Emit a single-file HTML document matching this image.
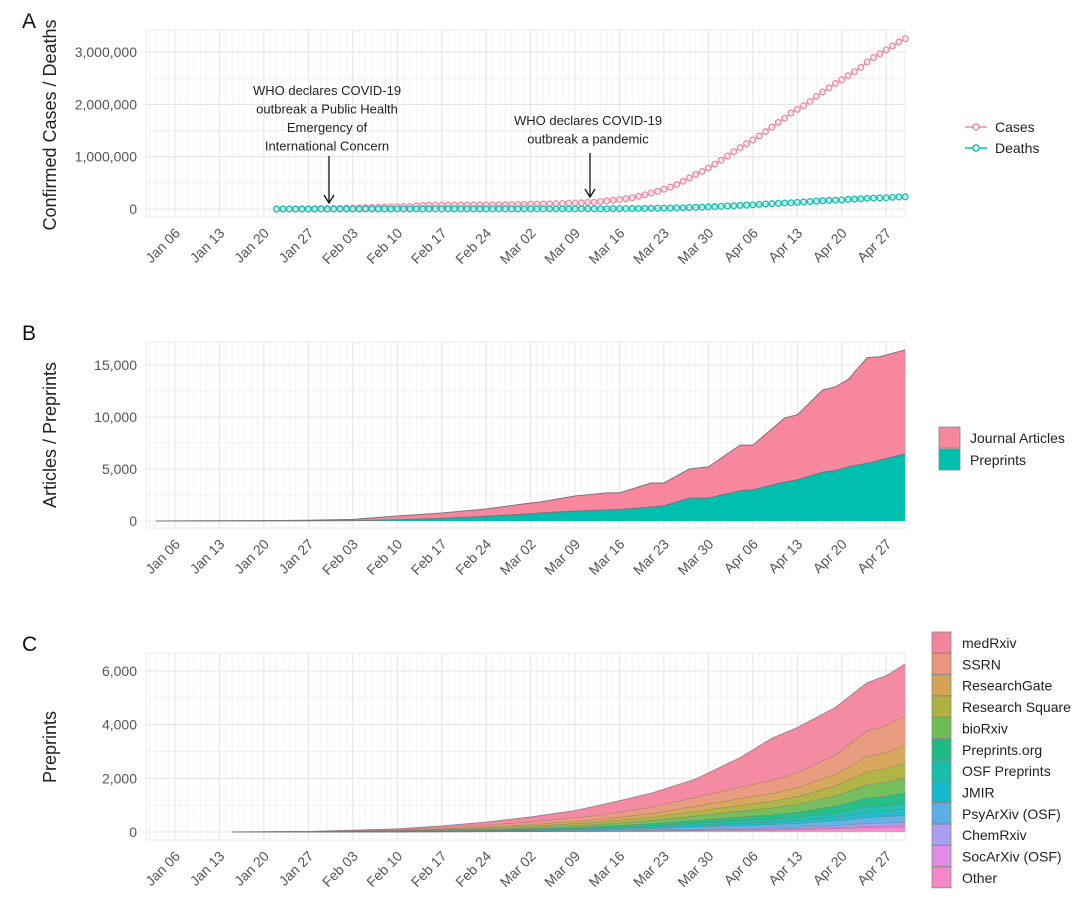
<!DOCTYPE html>
<html><head><meta charset="utf-8"><style>
html,body{margin:0;padding:0;background:#fff;}
svg{display:block;font-family:"Liberation Sans",Arial,sans-serif;}
</style></head><body>
<svg id="chart" width="1080" height="907" viewBox="0 0 1080 907" xmlns="http://www.w3.org/2000/svg"></svg>
<script>
// ---------- DATA ----------
// day offsets are days since Jan 06 (Jan 06 = 0)
const weekTickDays = [0,7,14,21,28,35,42,49,56,63,70,77,84,91,98,105,112];
const weekTickLabels = ["Jan 06","Jan 13","Jan 20","Jan 27","Feb 03","Feb 10","Feb 17","Feb 24","Mar 02","Mar 09","Mar 16","Mar 23","Mar 30","Apr 06","Apr 13","Apr 20","Apr 27"];

// Panel A: daily from Jan 22 (day 16), thousands
const casesStartDay = 16;
const casesK = [0.56,0.65,0.94,1.43,2.12,2.93,5.58,6.17,8.24,9.93,
12.0,16.8,19.9,23.7,27.6,30.8,34.4,37.1,40.2,42.8,44.8,45.2,60.4,66.9,69.0,71.2,73.3,75.2,75.6,76.2,76.8,78.6,78.9,79.6,80.4,81.4,82.7,84.1,86.0,
88.4,90.3,92.8,95.1,97.9,101.8,105.8,109.8,113.6,118.6,125.9,128.3,145.2,156.1,167.4,181.5,197.1,214.9,242.7,272.2,304.5,336.9,378.2,418.0,467.7,529.6,593.3,660.7,720.1,782.4,857.5,
932.6,1013,1095,1176,1249,1321,1396,1480,1565,1657,1735,1835,1905,1976,2056,2152,2240,2317,2401,2472,2549,2624,2708,2811,2897,2971,3042,3117,3193,3256];
const deathsK = [0.02,0.02,0.03,0.04,0.06,0.08,0.13,0.13,0.17,0.21,
0.26,0.36,0.43,0.49,0.56,0.63,0.72,0.81,0.91,1.01,1.11,1.12,1.37,1.52,1.67,1.77,1.87,2.01,2.12,2.25,2.25,2.46,2.47,2.63,2.71,2.77,2.81,2.87,2.94,
2.99,3.09,3.16,3.25,3.35,3.46,3.56,3.80,3.99,4.26,4.61,4.91,5.41,5.83,6.47,7.16,7.98,9.00,10.0,11.4,13.1,14.8,16.8,19.0,22.2,24.9,28.6,32.3,35.6,39.6,44.5,
50.0,56.8,62.8,68.8,73.8,80.0,87.6,95.0,102,108,115,120,126,134,142,150,158,165,169,175,183,190,196,203,209,212,216,224,230,233];
const aTicks = [0,1000000,2000000,3000000];
const aTickLabels = ["0","1,000,000","2,000,000","3,000,000"];

// Panel B
const bDays = [-3,7,14,21,28,35,42,49,56,57.5,63,68,70,75,77,81,84,89,91,96,98,102,104,106,109,111,115];
const bTotal = [0,20,40,80,150,480,770,1150,1730,1830,2400,2700,2700,3650,3650,5000,5200,7300,7300,9900,10200,12600,12900,13600,15700,15800,16450];
const bPreprints = [0,5,10,20,40,120,250,450,700,770,950,1060,1100,1350,1450,2200,2200,2900,3000,3750,3950,4700,4850,5200,5550,5850,6450];
const bTicks = [0,5000,10000,15000];
const bTickLabels = ["0","5,000","10,000","15,000"];

// Panel C (stacked, bottom -> top order: Other ... medRxiv)
const cDays = [9,21,35,42,49,56,63,67,75,82,89,94,98,104,109,112,115];
const cOther   = [0,0,4,7,11,17,24,28,41,57,74,85,98,127,166,176,190];
const cSocArXiv= [0,0,1,3,4,6,9,10,15,21,27,31,36,46,60,64,70];
const cChemRxiv= [0,0,2,4,7,10,14,16,23,33,42,48,56,72,95,100,110];
const cPsyArXiv= [0,1,5,10,16,23,32,38,56,78,101,116,133,173,227,239,260];
const cJMIR    = [0,1,4,8,13,19,27,32,47,65,84,97,111,145,189,200,230];
const cOSF     = [0,1,5,9,14,21,30,35,51,72,92,106,122,159,208,219,230];
const cPreprintsOrg=[0,1,8,14,22,32,46,54,79,110,143,164,189,246,321,339,370];
const cBioRxiv = [0,3,14,22,34,50,70,82,121,169,218,251,289,376,491,519,560];
const cResearchSquare=[0,2,12,21,34,49,70,82,121,169,218,251,289,376,491,519,550];
const cResearchGate=[0,2,13,24,39,57,81,95,140,195,252,290,333,434,567,598,670];
const cSSRN    = [0,4,22,40,65,95,135,158,232,325,420,482,555,722,945,998,1080];
const cMedRxiv = [0,5,30,60,110,180,260,370,520,680,1100,1570,1680,1760,1800,1850,1940];
const cTicks = [0,2000,4000,6000];
const cTickLabels = ["0","2,000","4,000","6,000"];
const cNames = ["medRxiv","SSRN","ResearchGate","Research Square","bioRxiv","Preprints.org","OSF Preprints","JMIR","PsyArXiv (OSF)","ChemRxiv","SocArXiv (OSF)","Other"];
const cColors = ["#F4849E","#E9977A","#D6A355","#ADB13E","#6FBB55","#1DBB80","#16BFAA","#16B9CC","#5CAFE6","#AA9EF0","#E08BE4","#F586C8"];

// ---------- HELPERS ----------
const NS="http://www.w3.org/2000/svg";
const svg=document.getElementById('chart');
function mk(tag, attrs, parent){const e=document.createElementNS(NS,tag);for(const k in attrs)e.setAttribute(k,attrs[k]);(parent||svg).appendChild(e);return e;}
const X0=175, PXD=6.35, PL=146, PR=905;
function xs(d){return X0+d*PXD;}

function panel(name, top, bottom, y0, pxPerUnit, ticks, tickLabels, title, titleY, letter, letterY){
  const ys=v=>y0-v*pxPerUnit;
  const g=mk('g',{});
  
  
  const bg=mk('rect',{x:PL,y:top,width:PR-PL,height:bottom-top,fill:'#fff',stroke:'#ebe9ef','stroke-width':1},g);
  
  
  for(let d=-4; d<=115; d++){
    const x=xs(d); if(x<PL||x>PR) continue;
    const ln=mk('line',{x1:x,x2:x,y1:top,y2:bottom,stroke:'#f3f1f6','stroke-width':0.8},g);
    
    
  }
  const step=ticks[1]-ticks[0];
  for(let i=0;i<ticks.length;i++){
    const ym=ys(ticks[i]+step/2);
    if(ym>top){
      const lm=mk('line',{x1:PL,x2:PR,y1:ym,y2:ym,stroke:'#f1eff4','stroke-width':1},g);
      
      
    }
    const y=ys(ticks[i]);
    const l=mk('line',{x1:PL,x2:PR,y1:y,y2:y,stroke:'#e7e5eb','stroke-width':1.1},g);
    
    
    const t=mk('text',{x:137,y:y+5,'text-anchor':'end','font-size':14,fill:'#555'},g);
    t.textContent=tickLabels[i];
    
    
  }
  for(let i=0;i<weekTickDays.length;i++){
    const x=xs(weekTickDays[i]);
    const l=mk('line',{x1:x,x2:x,y1:top,y2:bottom,stroke:'#e7e5eb','stroke-width':1.1},g);
    
    
    const t=mk('text',{x:x+6,y:bottom+17,'text-anchor':'end','font-size':14,fill:'#555',transform:`rotate(-45 ${x+6} ${bottom+17})`},g);
    t.textContent=weekTickLabels[i];
    
    
  }
  const tt=mk('text',{x:56,y:titleY,'text-anchor':'middle','font-size':18,fill:'#222',transform:`rotate(-90 56 ${titleY})`},g);
  tt.textContent=title;
  
  
  const lt=mk('text',{x:22,y:letterY,'font-size':21,fill:'#111'},g);
  lt.textContent=letter;
  
  
  return {g,ys};
}

// ---------- PANEL A ----------
const A=panel('cases-deaths',30,217,209,52.3/1e6,aTicks,aTickLabels,'Confirmed Cases / Deaths',125,'A',28);
function series(arr,color,name){
  const pts=arr.map((v,i)=>[xs(casesStartDay+i),A.ys(v*1000)]);
  const pl=mk('polyline',{points:pts.map(p=>p.join(',')).join(' '),fill:'none',stroke:color,'stroke-width':1.3},A.g);
  
  
  pts.forEach(p=>{
    const c=mk('circle',{cx:p[0],cy:p[1],r:2.8,fill:'#fff','fill-opacity':0.6,stroke:color,'stroke-width':1.4},A.g);
    
    
  });
}
series(casesK,'#EE8DA3','cases');
series(deathsK,'#12C2B0','deaths');
// annotations
function annot(lines,cx,y1,ay1,ay2,name){
  lines.forEach((s,i)=>{
    const t=mk('text',{x:cx,y:y1+i*18.5,'text-anchor':'middle','font-size':13,fill:'#222'},A.g);
    t.textContent=s;
    
    
  });
  const l=mk('line',{x1:cx+2,x2:cx+2,y1:ay1,y2:ay2-1,stroke:'#111','stroke-width':1.3},A.g);
  
  
  const h=mk('path',{d:`M${cx-3} ${ay2-8} L${cx+2} ${ay2} L${cx+7} ${ay2-8}`,fill:'none',stroke:'#111','stroke-width':1.3},A.g);
  
  
}
annot(["WHO declares COVID-19","outbreak a Public Health","Emergency of","International Concern"],327,95,156,203,'pheic-annotation');
annot(["WHO declares COVID-19","outbreak a pandemic"],588,125,153,197,'pandemic-annotation');
// legend A
[["Cases","#EE8DA3",127],["Deaths","#12C2B0",148]].forEach(([n,c,y])=>{
  const l=mk('line',{x1:965,x2:987,y1:y,y2:y,stroke:c,'stroke-width':1.5});
  
  
  const ci=mk('circle',{cx:976,cy:y,r:3,fill:'#fff',stroke:c,'stroke-width':1.5});
  
  
  const t=mk('text',{x:995,y:y+5,'font-size':14,fill:'#222'});
  t.textContent=n;
  
  
});

// ---------- PANEL B ----------
const B=panel('articles',342,528,521,52/5000,bTicks,bTickLabels,'Articles / Preprints',435,'B',340);
function areaPath(days,lo,hi,ys){
  let d='';
  days.forEach((dd,i)=>{d+=(i?'L':'M')+xs(dd).toFixed(1)+' '+ys(hi[i]).toFixed(1)+' ';});
  for(let i=days.length-1;i>=0;i--){d+='L'+xs(days[i]).toFixed(1)+' '+ys(lo[i]).toFixed(1)+' ';}
  return d+'Z';
}
function topLine(days,hi,ys){return days.map((dd,i)=>(i?'L':'M')+xs(dd).toFixed(1)+' '+ys(hi[i]).toFixed(1)).join(' ');}
const zerosB=bDays.map(()=>0);
const pa=mk('path',{d:areaPath(bDays,bPreprints,bTotal,B.ys),fill:'#F7869F'},B.g);


const pp=mk('path',{d:areaPath(bDays,zerosB,bPreprints,B.ys),fill:'#00BFAE'},B.g);


[bTotal,bPreprints].forEach(arr=>{
  const l=mk('path',{d:topLine(bDays,arr,B.ys),fill:'none',stroke:'#7a7476','stroke-width':1},B.g);
  
  
});
[["Journal Articles","#F7869F",427],["Preprints","#00BFAE",449]].forEach(([n,c,y])=>{
  const r=mk('rect',{x:939,y:y,width:21,height:21,fill:c,stroke:'#888','stroke-width':0.8});
  
  
  const t=mk('text',{x:970,y:y+16,'font-size':14,fill:'#222'});
  t.textContent=n;
  
  
});

// ---------- PANEL C ----------
const C=panel('preprints',653,840,832,53.7/2000,cTicks,cTickLabels,'Preprints',747,'C',651);
const layersBottomUp=[cOther,cSocArXiv,cChemRxiv,cPsyArXiv,cJMIR,cOSF,cPreprintsOrg,cBioRxiv,cResearchSquare,cResearchGate,cSSRN,cMedRxiv];
let lower=cDays.map(()=>0);
layersBottomUp.forEach((arr,k)=>{
  const upper=lower.map((v,i)=>v+arr[i]);
  const idx=cNames.length-1-k;
  const p=mk('path',{d:areaPath(cDays,lower,upper,C.ys),fill:cColors[idx],'fill-opacity':0.95},C.g);
  
  
  const o=mk('path',{d:topLine(cDays,upper,C.ys),fill:'none',stroke:'#7a7476','stroke-width':0.9,'stroke-opacity':0.8},C.g);
  
  
  lower=upper;
});
cNames.forEach((n,i)=>{
  const y=632+i*21.35;
  const r=mk('rect',{x:932,y:y,width:19,height:21,fill:cColors[i],stroke:'#888','stroke-width':0.8});
  
  
  const t=mk('text',{x:962,y:y+16,'font-size':14,fill:'#222'});
  t.textContent=n;
  
  
});
</script>
</body></html>
